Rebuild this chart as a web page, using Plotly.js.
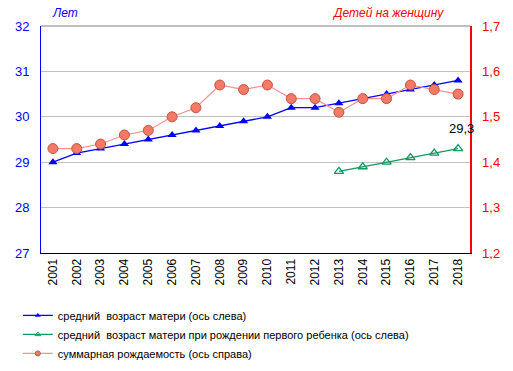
<!DOCTYPE html>
<html><head><meta charset="utf-8">
<script src="https://cdn.plot.ly/plotly-3.0.1.min.js"></script>
<style>body{margin:0;padding:0;background:#fff}#chart{width:513px;height:371px}</style>
</head><body><div id="chart"></div>
<script>
const years = ['2001','2002','2003','2004','2005','2006','2007','2008','2009','2010','2011','2012','2013','2014','2015','2016','2017','2018'];
const avgAgeMother = [29.0,29.2,29.3,29.4,29.5,29.6,29.7,29.8,29.9,30.0,30.2,30.2,30.3,30.4,30.5,30.6,30.7,30.8];
const firstBirthYears = ['2013','2014','2015','2016','2017','2018'];
const avgAgeFirstBirth = [28.8,28.9,29.0,29.1,29.2,29.3];
const fertilityRate = [1.43,1.43,1.44,1.46,1.47,1.50,1.52,1.57,1.56,1.57,1.54,1.54,1.51,1.54,1.54,1.57,1.56,1.55];
const leftTicks = [27,28,29,30,31,32];
const rightTicks = [1.2,1.3,1.4,1.5,1.6,1.7];
const rightTickText = ['1,2','1,3','1,4','1,5','1,6','1,7'];
const names = ['средний  возраст матери (ось слева)','средний  возраст матери при рождении первого ребенка (ось слева)','суммарная рождаемость (ось справа)'];

const styles = [
  {line:{color:'#0000ff', width:1.3}, marker:{symbol:'triangle-up', size:8, color:'#0000ff'}, legMarker:{symbol:'triangle-up', size:5, color:'#0000ff'}},
  {line:{color:'#0f9a5e', width:1.3}, marker:{symbol:'triangle-up-open', size:8, color:'#0f9a5e', line:{width:1.3}}, legMarker:{symbol:'triangle-up-open', size:5, color:'#0f9a5e', line:{width:1}}},
  {line:{color:'#ff9090', width:1.2}, marker:{symbol:'circle', size:10, color:'#f47a68', line:{color:'#c8503c', width:1}}, legMarker:{symbol:'circle', size:5, color:'#f47a68', line:{color:'#c8503c', width:1}}}
];

const traces = [
  {x: years, y: avgAgeMother, name: names[0], type:'scatter', mode:'lines+markers', line:styles[0].line, marker:styles[0].marker, yaxis:'y', showlegend:false},
  {x: firstBirthYears, y: avgAgeFirstBirth, name: names[1], type:'scatter', mode:'lines+markers', line:styles[1].line, marker:styles[1].marker, yaxis:'y', showlegend:false},
  {x: years, y: fertilityRate, name: names[2], type:'scatter', mode:'lines+markers', line:styles[2].line, marker:styles[2].marker, yaxis:'y2', showlegend:false}
];
// legend-only entries with small markers (as in the reference legend)
for (let i = 0; i < 3; i++) {
  traces.push({x:[null], y:[null], name:names[i], type:'scatter', mode:'lines+markers', line:styles[i].line, marker:styles[i].legMarker, yaxis: i===2?'y2':'y', showlegend:true});
}

const lastIdx = years.indexOf(firstBirthYears[firstBirthYears.length-1]);
const lastVal = avgAgeFirstBirth[avgAgeFirstBirth.length-1];

const layout = {
  width:513, height:371,
  margin:{l:41, r:43, t:26, b:118, autoexpand:false},
  paper_bgcolor:'#fff', plot_bgcolor:'#fff',
  font:{family:'Liberation Sans, Arial, sans-serif', size:11, color:'#000'},
  showlegend:true,
  legend:{x:-0.054, y:-0.211, xanchor:'left', yanchor:'top',
    font:{size:11, color:'#000'}, bgcolor:'rgba(0,0,0,0)', tracegroupgap:0},
  xaxis:{type:'category', range:[-0.5,17.5], tickangle:-90, showgrid:false, tickvals:years, ticktext:years,
    showline:true, linecolor:'#000', linewidth:1, ticks:'', tickfont:{size:12, color:'#000'}, zeroline:false},
  yaxis:{range:[27,32], tickvals:leftTicks, ticktext:leftTicks.map(String), showgrid:true, gridcolor:'#c0c0c0', gridwidth:1,
    showline:true, linecolor:'#0000ff', linewidth:1, ticks:'', tickfont:{size:13, color:'#0000ff'}, zeroline:false, ticklabelstandoff:8},
  yaxis2:{range:[1.2,1.7], overlaying:'y', side:'right', tickvals:rightTicks, ticktext:rightTickText, showgrid:false,
    showline:true, linecolor:'#ff0000', linewidth:1.5, ticks:'', tickfont:{size:13, color:'#ff0000'}, zeroline:false, ticklabelstandoff:8},
  shapes:[{type:'line', xref:'paper', yref:'paper', x0:0, x1:1, y0:1, y1:1, line:{color:'#808080', width:1}}],
  annotations:[
    {xref:'paper', yref:'paper', x:0.02, y:1, yshift:4, xanchor:'left', yanchor:'bottom', showarrow:false,
     text:'Лет', font:{size:12, color:'#0000ff', style:'italic'}},
    {xref:'paper', yref:'paper', x:0.945, y:1, yshift:4, xanchor:'right', yanchor:'bottom', showarrow:false,
     text:'Детей на женщину', font:{size:12, color:'#ff0000', style:'italic'}},
    {x:lastIdx, y:lastVal, xref:'x', yref:'y', xshift:3,
     yshift:11, yanchor:'bottom', showarrow:false, text:String(lastVal).replace('.',','),
     font:{size:13, color:'#000'}}
  ]
};
Plotly.newPlot('chart', traces, layout, {displayModeBar:false, staticPlot:true});
</script></body></html>
